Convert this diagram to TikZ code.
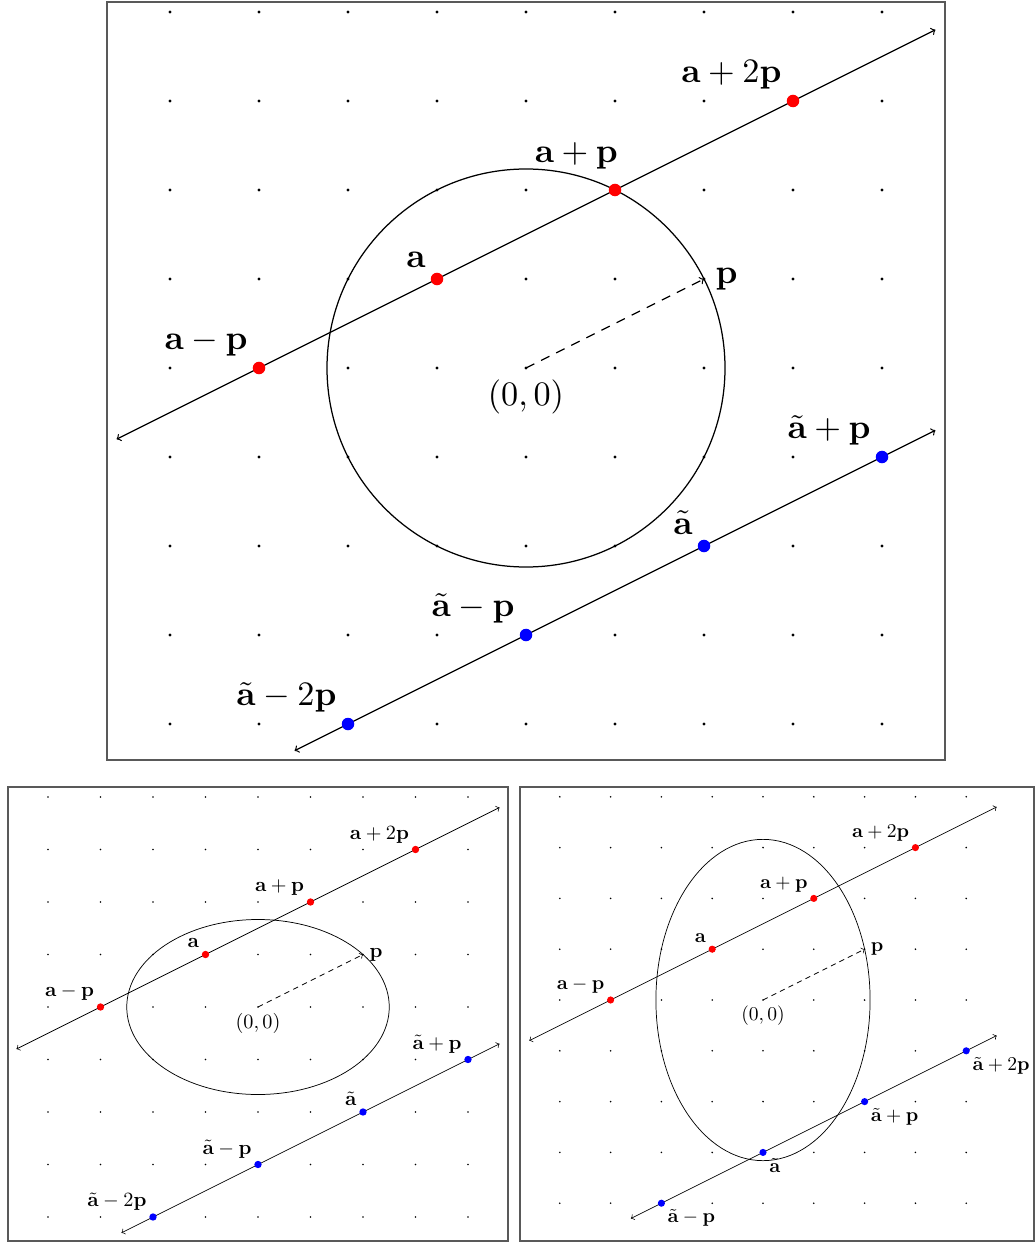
\documentclass[tikz,border=0pt]{standalone}
\usetikzlibrary{calc}
\begin{document}
\begin{tikzpicture}[
  frame/.style={draw=black!65, line width=0.9pt},
  lab/.style={font=\fontsize{10.95}{13}\selectfont},
  redpt/.style={circle, fill=red, inner sep=0pt, minimum size=4pt},
  bluept/.style={circle, fill=blue, inner sep=0pt, minimum size=4pt},
  gdot/.style={fill=black}
]
\useasboundingbox (0,0) rectangle (20.7,-24.86);

% ---------- frames ----------
\draw[frame] (2.14,-0.04) rectangle (18.9,-15.2);
\draw[frame] (0.16,-15.74) rectangle (10.16,-24.82);
\draw[frame] (10.4,-15.74) rectangle (20.68,-24.82);

% ---------- top panel ----------
\begin{scope}[shift={(10.52,-7.36)}, scale=1.78, transform shape, line width=0.71pt]
  \foreach \i in {-4,...,4}{\foreach \j in {-4,...,4}{\fill[gdot] (\i,\j) circle (0.5pt);}}
  \draw (0,0) circle (2.2361);
  \coordinate (TO) at (0,0);
  \coordinate (TP) at (2,1);
  \coordinate (TaS) at (-4.6,-0.8);
  \coordinate (TaE) at (4.6,3.8);
  \coordinate (TbS) at (-2.6,-4.3);
  \coordinate (TbE) at (4.6,-0.7);
  \draw[<->] (TaS) -- (TaE);
  \draw[<->] (TbS) -- (TbE);
  \draw[->, dash pattern=on 5.3pt off 4.3pt] (TO) -- (TP);
  \node[redpt] (Tam) at (-3,0) {};
  \node[redpt] (Ta) at (-1,1) {};
  \node[redpt] (Tap) at (1,2) {};
  \node[redpt] (Ta2p) at (3,3) {};
  \node[bluept] (Tbm2) at (-2,-4) {};
  \node[bluept] (Tbm) at (0,-3) {};
  \node[bluept] (Tb) at (2,-2) {};
  \node[bluept] (Tbp) at (4,-1) {};
  \node[lab, below] (TlO) at (TO) {$(0,0)$};
  \node[lab, right] (TlP) at (TP) {$\mathbf{p}$};
  \node[lab, above left] (Tlam) at (Tam) {$\mathbf{a}-\mathbf{p}$};
  \node[lab, above left] (Tla) at (Ta) {$\mathbf{a}$};
  \node[lab, above left] (Tlap) at ($(Tap)+(0.16,0.1)$) {$\mathbf{a}+\mathbf{p}$};
  \node[lab, above left] (Tla2p) at (Ta2p) {$\mathbf{a}+2\mathbf{p}$};
  \node[lab, above left] (Tlbm2) at (Tbm2) {$\tilde{\mathbf{a}}-2\mathbf{p}$};
  \node[lab, above left] (Tlbm) at (Tbm) {$\tilde{\mathbf{a}}-\mathbf{p}$};
  \node[lab, above left] (Tlb) at (Tb) {$\tilde{\mathbf{a}}$};
  \node[lab, above left] (Tlbp) at (Tbp) {$\tilde{\mathbf{a}}+\mathbf{p}$};
\end{scope}

% ---------- bottom-left panel ----------
\begin{scope}[shift={(5.16,-20.14)}, scale=1.05, transform shape, line width=0.42pt]
  \foreach \i in {-4,...,4}{\foreach \j in {-4,...,4}{\fill[gdot] (\i,\j) circle (0.5pt);}}
  \draw (0,0) ellipse [x radius=2.5, y radius=1.6667];
  \coordinate (LO) at (0,0);
  \coordinate (LP) at (2,1);
  \coordinate (LaS) at (-4.6,-0.8);
  \coordinate (LaE) at (4.6,3.8);
  \coordinate (LbS) at (-2.6,-4.3);
  \coordinate (LbE) at (4.6,-0.7);
  \draw[<->] (LaS) -- (LaE);
  \draw[<->] (LbS) -- (LbE);
  \draw[->, dash pattern=on 3.1pt off 2.5pt] (LO) -- (LP);
  \node[redpt] (Lam) at (-3,0) {};
  \node[redpt] (La) at (-1,1) {};
  \node[redpt] (Lap) at (1,2) {};
  \node[redpt] (La2p) at (3,3) {};
  \node[bluept] (Lbm2) at (-2,-4) {};
  \node[bluept] (Lbm) at (0,-3) {};
  \node[bluept] (Lb) at (2,-2) {};
  \node[bluept] (Lbp) at (4,-1) {};
  \node[lab, below] (LlO) at (LO) {$(0,0)$};
  \node[lab, right] (LlP) at (LP) {$\mathbf{p}$};
  \node[lab, above left] (Llam) at (Lam) {$\mathbf{a}-\mathbf{p}$};
  \node[lab, above left] (Lla) at (La) {$\mathbf{a}$};
  \node[lab, above left] (Llap) at (Lap) {$\mathbf{a}+\mathbf{p}$};
  \node[lab, above left] (Lla2p) at (La2p) {$\mathbf{a}+2\mathbf{p}$};
  \node[lab, above left] (Llbm2) at (Lbm2) {$\tilde{\mathbf{a}}-2\mathbf{p}$};
  \node[lab, above left] (Llbm) at (Lbm) {$\tilde{\mathbf{a}}-\mathbf{p}$};
  \node[lab, above left] (Llb) at (Lb) {$\tilde{\mathbf{a}}$};
  \node[lab, above left] (Llbp) at (Lbp) {$\tilde{\mathbf{a}}+\mathbf{p}$};
\end{scope}

% ---------- bottom-right panel ----------
\begin{scope}[shift={(15.26,-20.0)}, scale=1.016, transform shape, line width=0.41pt]
  \foreach \i in {-4,...,4}{\foreach \j in {-4,...,4}{\fill[gdot] (\i,\j) circle (0.5pt);}}
  \draw (0,0) ellipse [x radius=2.1082, y radius=3.1623];
  \coordinate (RO) at (0,0);
  \coordinate (RP) at (2,1);
  \coordinate (RaS) at (-4.6,-0.8);
  \coordinate (RaE) at (4.6,3.8);
  \coordinate (RbS) at (-2.6,-4.3);
  \coordinate (RbE) at (4.6,-0.7);
  \draw[<->] (RaS) -- (RaE);
  \draw[<->] (RbS) -- (RbE);
  \draw[->, dash pattern=on 3pt off 2.4pt] (RO) -- (RP);
  \node[redpt] (Ram) at (-3,0) {};
  \node[redpt] (Ra) at (-1,1) {};
  \node[redpt] (Rap) at (1,2) {};
  \node[redpt] (Ra2p) at (3,3) {};
  \node[bluept] (Rbm) at (-2,-4) {};
  \node[bluept] (Rb) at (0,-3) {};
  \node[bluept] (Rbp) at (2,-2) {};
  \node[bluept] (Rbp2) at (4,-1) {};
  \node[lab, below] (RlO) at (RO) {$(0,0)$};
  \node[lab, right] (RlP) at (RP) {$\mathbf{p}$};
  \node[lab, above left] (Rlam) at (Ram) {$\mathbf{a}-\mathbf{p}$};
  \node[lab, above left] (Rla) at (Ra) {$\mathbf{a}$};
  \node[lab, above left] (Rlap) at (Rap) {$\mathbf{a}+\mathbf{p}$};
  \node[lab, above left] (Rla2p) at (Ra2p) {$\mathbf{a}+2\mathbf{p}$};
  \node[lab, below right] (Rlbm) at (Rbm) {$\tilde{\mathbf{a}}-\mathbf{p}$};
  \node[lab, below right] (Rlb) at (Rb) {$\tilde{\mathbf{a}}$};
  \node[lab, below right] (Rlbp) at (Rbp) {$\tilde{\mathbf{a}}+\mathbf{p}$};
  \node[lab, below right] (Rlbp2) at (Rbp2) {$\tilde{\mathbf{a}}+2\mathbf{p}$};
\end{scope}
\end{tikzpicture}
\end{document}
